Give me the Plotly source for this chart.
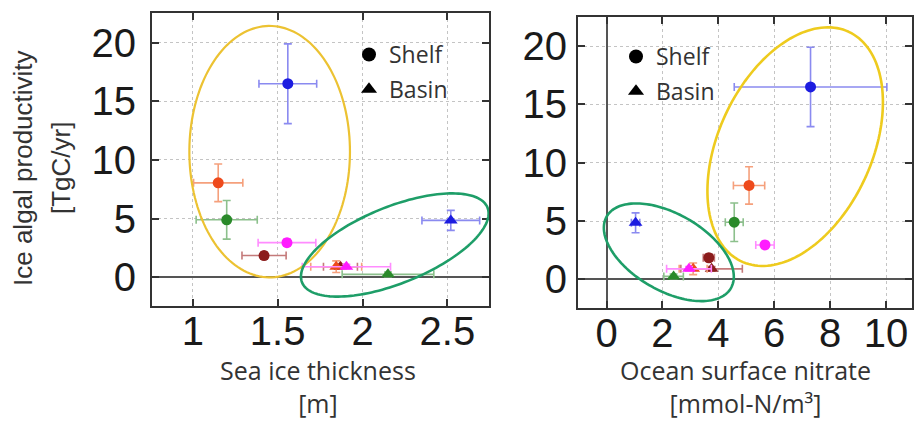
import numpy as np
import plotly.graph_objects as go

W, H = 914, 421

# ---------------- data ----------------
region_colors = ["#1c1ce0", "#ee4a1c", "#2a8a2a", "#ff1cff", "#8b1c1c"]
region_err_colors = ["#8a8af0", "#f5a07c", "#8cc08c", "#ff8cff", "#c47a7a"]

# Shelf (circles)
shelf_prod = [16.5, 8.05, 4.9, 2.95, 1.85]
shelf_prod_err = [3.4, 1.6, 1.65, 0.3, 0.3]
shelf_thick = [1.56, 1.15, 1.20, 1.555, 1.42]
shelf_thick_err = [0.17, 0.145, 0.18, 0.17, 0.13]
shelf_no3 = [7.3, 5.1, 4.57, 5.67, 3.66]
shelf_no3_err = [2.73, 0.56, 0.32, 0.33, 0.2]

# Basin (triangles)
basin_prod = [4.85, 0.9, 0.25, 0.9, 0.9]
basin_prod_err = [0.85, 0.5, 0.2, 0.2, 0.2]
basin_thick = [2.52, 1.845, 2.15, 1.905, 1.87]
basin_thick_err = [0.17, 0.15, 0.27, 0.26, 0.1]
basin_no3 = [1.04, 3.1, 2.4, 2.95, 3.76]
basin_no3_err = [0.15, 0.5, 0.35, 0.8, 1.1]

left_xticks = [1, 1.5, 2, 2.5]
left_xticklabels = ["1", "1.5", "2", "2.5"]
right_xticks = [0, 2, 4, 6, 8, 10]
yticks = [0, 5, 10, 15, 20]

# ---------------- layout geometry ----------------
L_px = dict(x0=152, x1=489, y0=13, y1=306)
R_px = dict(x0=578, x1=912, y0=17, y1=308)
L_xrange = [0.76, 2.745]
L_yrange = [-2.45, 22.53]
R_xrange = [-1.02, 10.93]
R_yrange = [-2.46, 22.5]


def dom_x(p):
    return [p["x0"] / W, p["x1"] / W]


def dom_y(p):
    return [1 - p["y1"] / H, 1 - p["y0"] / H]


def scale(p, xr, yr):
    return (p["x1"] - p["x0"]) / (xr[1] - xr[0]), (p["y1"] - p["y0"]) / (yr[1] - yr[0])


def ellipse_path(cx, cy, a, b, ang, sx, sy, n=160):
    t = np.linspace(0, 2 * np.pi, n)
    th = np.radians(ang)
    dx = a * np.cos(t) * np.cos(th) - b * np.sin(t) * np.sin(th)
    dy = a * np.cos(t) * np.sin(th) + b * np.sin(t) * np.cos(th)
    xs = cx + dx / sx
    ys = cy + dy / sy
    return "M " + " L ".join(f"{x:.4f},{y:.4f}" for x, y in zip(xs, ys)) + " Z"


fig = go.Figure()

draw_order = [4, 2, 1, 3, 0]


def add_points(xvals, xerr, yvals, yerr, symbol, size, xa, ya):
    for i in draw_order:
        fig.add_trace(go.Scatter(
            x=[xvals[i]], y=[yvals[i]], xaxis=xa, yaxis=ya, mode="markers",
            marker=dict(symbol=symbol, size=size, color=region_colors[i], line=dict(width=0)),
            error_x=dict(type="data", array=[xerr[i]], color=region_err_colors[i], thickness=1.6, width=4),
            error_y=dict(type="data", array=[yerr[i]], color=region_err_colors[i], thickness=1.6, width=4),
            showlegend=False, hoverinfo="skip",
        ))


add_points(basin_thick, basin_thick_err, basin_prod, basin_prod_err, "triangle-up", 12, "x", "y")
add_points(shelf_thick, shelf_thick_err, shelf_prod, shelf_prod_err, "circle", 11, "x", "y")
add_points(basin_no3, basin_no3_err, basin_prod, basin_prod_err, "triangle-up", 12, "x2", "y2")
add_points(shelf_no3, shelf_no3_err, shelf_prod, shelf_prod_err, "circle", 11, "x2", "y2")

# legend entries
for lg in ["legend", "legend2"]:
    fig.add_trace(go.Scatter(x=[None], y=[None], mode="markers", name="Shelf", legend=lg,
                             marker=dict(symbol="circle", size=14, color="black"), legendgroup=lg + "a"))
    fig.add_trace(go.Scatter(x=[None], y=[None], mode="markers", name="Basin", legend=lg,
                             marker=dict(symbol="triangle-up", size=14, color="black"), legendgroup=lg + "b"))

tickfont = dict(family="Liberation Sans, Arial, sans-serif", size=40, color="#1a1a1a")
ax_common = dict(showline=True, linewidth=2, linecolor="#333333", mirror="ticks", ticks="inside",
                 ticklen=7, tickwidth=2, tickcolor="#333333", showgrid=True, gridcolor="#c4c4c4",
                 griddash="dot", gridwidth=1, tickfont=tickfont, zeroline=True,
                 zerolinecolor="#555555", zerolinewidth=1.6)

legend_common = dict(font=dict(family="Open Sans, sans-serif", size=23, color="#333333"),
                     bgcolor="rgba(0,0,0,0)", borderwidth=0, xanchor="left", yanchor="top",
                     traceorder="grouped", tracegroupgap=2, itemwidth=30)

fig.update_layout(
    width=W, height=H, margin=dict(l=0, r=0, t=0, b=0),
    paper_bgcolor="white", plot_bgcolor="white",
    xaxis=dict(domain=dom_x(L_px), range=L_xrange, tickvals=left_xticks, ticktext=left_xticklabels,
               anchor="y", ticklabelstandoff=-11, **ax_common),
    yaxis=dict(domain=dom_y(L_px), range=L_yrange, tickvals=yticks, anchor="x",
               ticklabelstandoff=6, **ax_common),
    xaxis2=dict(domain=dom_x(R_px), range=R_xrange, tickvals=right_xticks, anchor="y2",
                ticklabelstandoff=-11, **ax_common),
    yaxis2=dict(domain=dom_y(R_px), range=R_yrange, tickvals=yticks, anchor="x2",
                ticklabelstandoff=1, **ax_common),
    legend=dict(x=349 / W, y=1 - 33 / H, **legend_common),
    legend2=dict(x=616 / W, y=1 - 35 / H, **legend_common),
)

# ellipses (cluster outlines)
sLx, sLy = scale(L_px, L_xrange, L_yrange)
sRx, sRy = scale(R_px, R_xrange, R_yrange)
ellipses = [
    ("x", "y", 1.453, 10.71, 80.3, 125.7, 0, sLx, sLy, "#ecc232", 2.2),
    ("x", "y", 2.19, 2.75, 100, 38.3, 22, sLx, sLy, "#1e9e68", 2.6),
    ("x2", "y2", 6.75, 11.38, 126.7, 76.7, 65, sRx, sRy, "#eecb1e", 2.6),
    ("x2", "y2", 2.23, 2.32, 71.7, 38.3, -30, sRx, sRy, "#1e9e68", 2.6),
]
for xr, yr, cx, cy, a, b, ang, sx, sy, col, lw in ellipses:
    fig.add_shape(type="path", xref=xr, yref=yr, path=ellipse_path(cx, cy, a, b, ang, sx, sy),
                  line=dict(color=col, width=lw), fillcolor="rgba(0,0,0,0)", layer="above")

title_font = dict(family="Open Sans, sans-serif", size=25, color="#333333")
ylab_font = dict(family="Liberation Sans, Arial, sans-serif", size=26, color="#333333")

# x-axis titles (two lines each, bottom-anchored at the page edge)
for text, px in [("Sea ice thickness<br>[m]", 318), ("Ocean surface nitrate<br>[mmol-N/m³]", 745)]:
    fig.add_annotation(text=text, x=px / W, y=0, xref="paper", yref="paper", showarrow=False,
                       xanchor="center", yanchor="bottom", font=title_font, borderpad=0)

# y-axis title lines
for text, px in [("Ice algal productivity", 23), ("[TgC/yr]", 61)]:
    fig.add_annotation(text=text, x=px / W, y=1 - 168 / H, xref="paper", yref="paper",
                       showarrow=False, xanchor="center", yanchor="middle", font=ylab_font,
                       textangle=-90)

fig.write_html("out.html")
